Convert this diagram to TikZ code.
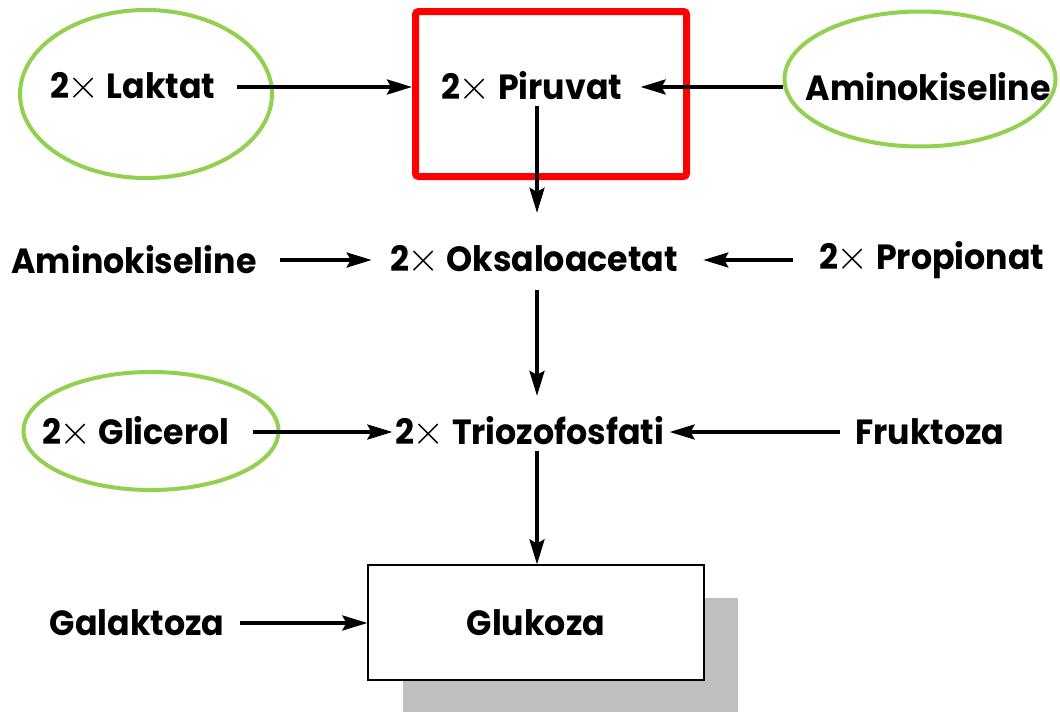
\documentclass[tikz,border=0pt]{standalone}
\usepackage{fontspec}
\setmainfont{Poppins}[FakeStretch=0.95]
\usetikzlibrary{shapes.geometric,arrows.meta}
\definecolor{ringgreen}{RGB}{146,208,80}
\definecolor{shadowgray}{RGB}{191,191,191}
\newcommand{\twox}{2\kern-1pt{\fontsize{21}{21}\selectfont$\times$}}

\begin{document}
\begin{tikzpicture}[x=0.5pt,y=-0.5pt,
  lbl/.style={font=\fontsize{17.5}{21}\selectfont\bfseries, inner sep=0pt},
  ring/.style={draw=ringgreen, line width=2pt, ellipse, inner sep=0pt},
  flow/.style={-{Stealth[length=12.5pt,width=7.5pt,inset=2pt]}, line width=1.6pt},
]
  \path[use as bounding box] (0,0) rectangle (1060,712);

  % top row
  \node[ring, minimum width=126pt, minimum height=84pt] (laktatring) at (146,94) {};
  \node[lbl] (laktat) at (133,87) {\twox\ Laktat};
  \node[draw=red, line width=3.5pt, rounded corners=1.5pt,
        minimum width=135.5pt, minimum height=82.5pt] (piruvatbox) at (551,94) {};
  \node[lbl] (piruvat) at (532,87) {\twox\ Piruvat};
  \node[ring, minimum width=135.5pt, minimum height=67.5pt] (aminoring) at (920,79) {};
  \node[lbl] (amino1) at (928,87) {Aminokiseline};

  % middle rows
  \node[lbl] (amino2) at (134,260) {Aminokiseline};
  \node[lbl] (oksalo) at (534,260) {\twox\ Oksaloacetat};
  \node[lbl] (propionat) at (932,260) {\twox\ Propionat};
  \node[ring, minimum width=127.5pt, minimum height=59pt] (glicerolring) at (151,431) {};
  \node[lbl] (glicerol) at (136,432) {\twox\ Glicerol};
  \node[lbl] (trioza) at (530,432) {\twox\ Triozofosfati};
  \node[lbl] (fruktoza) at (930,432) {Fruktoza};

  % bottom row
  \fill[shadowgray] (403,598) rectangle (738,712);
  \node[draw, fill=white, line width=0.6pt, minimum width=168pt, minimum height=57.5pt,
        font=\fontsize{17.5}{21}\selectfont\bfseries] (glukoza) at (536,622.5) {Glukoza};
  \node[lbl] (galaktoza) at (137,623) {Galaktoza};

  \coordinate (spine) at (537,0);

  % arrows
  \draw[flow, shorten <=10.5pt] (laktat.east) -- (laktat.east -| piruvatbox.west);
  \draw[flow, shorten >=9pt] (amino1.west -| aminoring.west) -- (piruvat.east);
  \draw[flow, shorten <=1.5pt, shorten >=16pt] (spine |- piruvat.south) -- (spine |- oksalo.north);
  \draw[flow, shorten <=11.5pt, shorten >=9pt] (amino2.east) -- (oksalo.west);
  \draw[flow, shorten <=13pt, shorten >=12.5pt] (propionat.west) -- (oksalo.east);
  \draw[flow, shorten <=7.5pt, shorten >=10pt] (spine |- oksalo.south) -- (spine |- trioza.north);
  \draw[flow, shorten <=11.5pt, shorten >=1.5pt] (glicerol.east) -- (trioza.west);
  \draw[flow, shorten <=7.5pt, shorten >=2.5pt] (fruktoza.west) -- (trioza.east);
  \draw[flow, shorten <=1.5pt] (spine |- trioza.south) -- (spine |- glukoza.north);
  \draw[flow, shorten <=7.5pt] (galaktoza.east) -- (galaktoza.east -| glukoza.west);
\end{tikzpicture}
\end{document}
